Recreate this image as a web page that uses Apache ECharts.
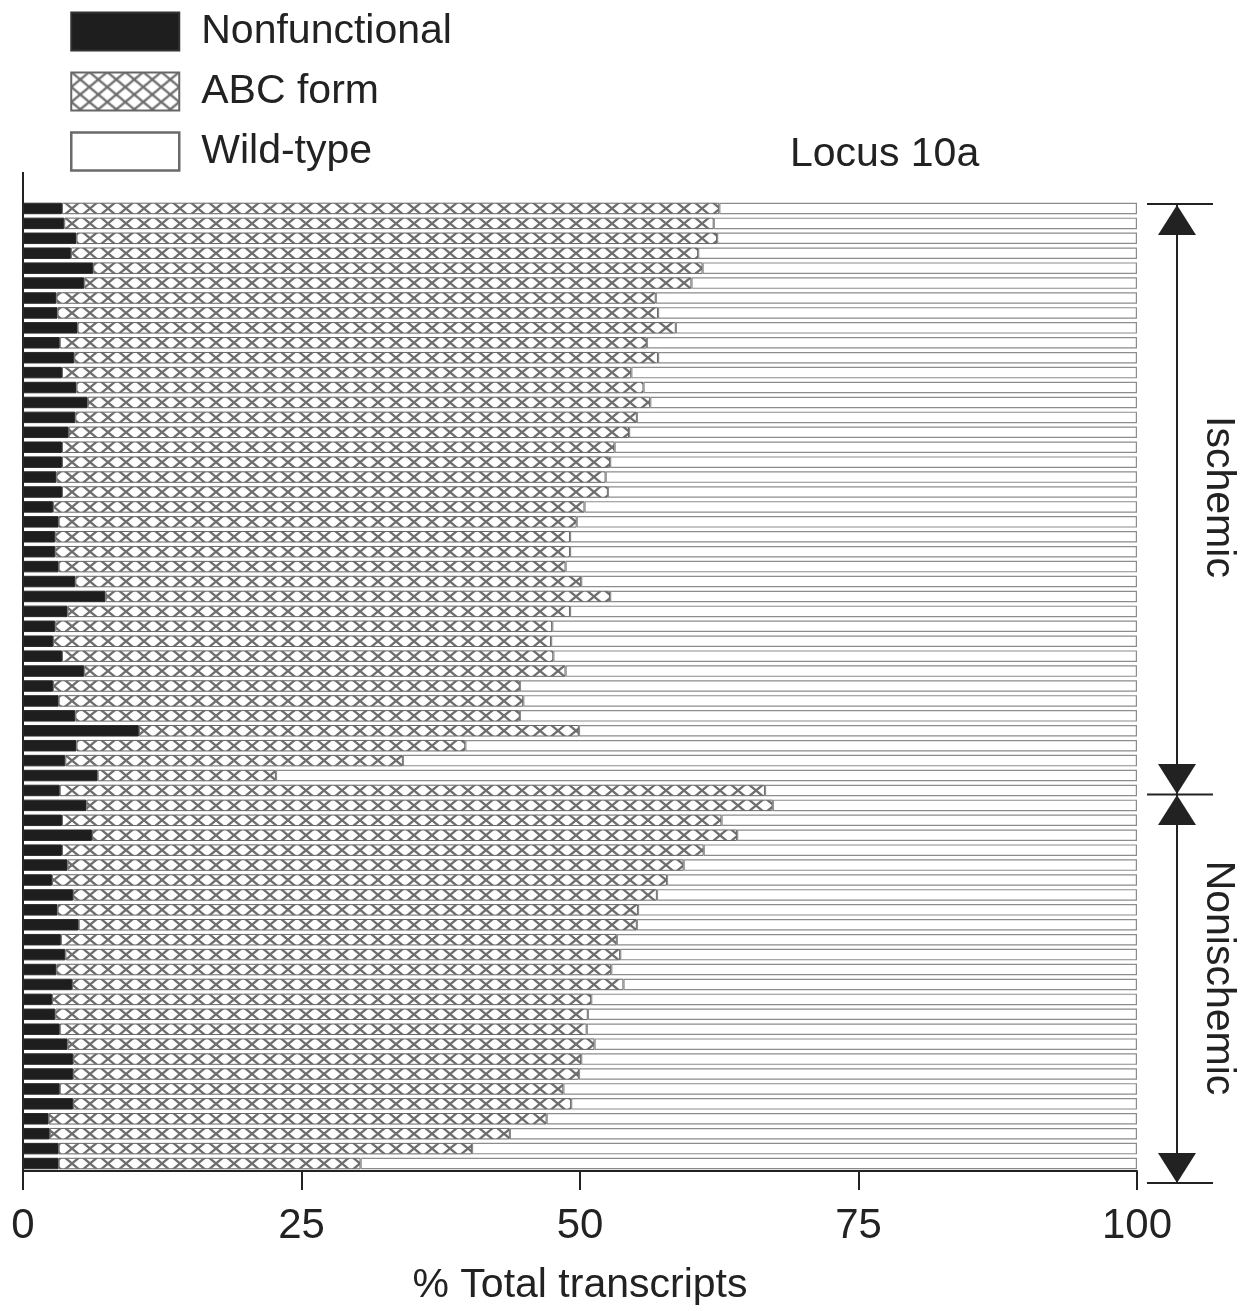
<!DOCTYPE html>
<html><head><meta charset="utf-8">
<script src="https://cdn.jsdelivr.net/npm/echarts@6/dist/echarts.min.js"></script>
<style>html,body{margin:0;padding:0;background:#fff}#c{width:1257px;height:1311px}</style>
</head><body><div id="c"></div>
<script>
// ---- data ----
const categories = ['I1','I2','I3','I4','I5','I6','I7','I8','I9','I10','I11','I12','I13','I14','I15','I16','I17','I18','I19','I20','I21','I22','I23','I24','I25','I26','I27','I28','I29','I30','I31','I32','I33','I34','I35','I36','I37','I38','I39',
  'N1','N2','N3','N4','N5','N6','N7','N8','N9','N10','N11','N12','N13','N14','N15','N16','N17','N18','N19','N20','N21','N22','N23','N24','N25','N26'];
const nonfunctional = [3.5,3.7,4.8,4.3,6.3,5.5,3.0,3.1,4.9,3.3,4.6,3.5,4.8,5.8,4.7,4.1,3.5,3.5,3.0,3.5,2.7,3.2,2.9,2.9,3.2,4.7,7.4,4.0,2.9,2.7,3.5,5.5,2.7,3.2,4.7,10.4,4.8,3.8,6.7,
  3.3,5.7,3.5,6.2,3.5,4.0,2.6,4.5,3.1,5.0,3.4,3.8,3.0,4.4,2.6,2.9,3.3,4.0,4.5,4.5,3.3,4.5,2.3,2.4,3.2,3.2];
const abcForm = [59.0,58.3,57.5,56.3,54.7,54.5,53.8,53.9,53.7,52.7,52.4,51.1,50.9,50.5,50.4,50.3,49.6,49.2,49.3,49.0,47.7,46.5,46.2,46.2,45.5,45.4,45.3,45.1,44.6,44.7,44.1,43.2,41.9,41.7,39.9,39.5,34.9,30.3,16.0,
  63.3,61.6,59.2,57.9,57.6,55.3,55.2,52.4,52.1,50.1,49.9,49.8,49.8,49.5,48.4,47.8,47.3,47.3,45.6,45.4,45.2,44.7,44.7,41.3,37.1,27.1];
const wildType = [37.5,38.0,37.7,39.4,39.0,40.0,43.2,43.0,41.4,44.0,43.0,45.4,44.3,43.7,44.9,45.6,46.9,47.3,47.7,47.5,49.6,50.3,50.9,50.9,51.3,49.9,47.3,50.9,52.5,52.6,52.4,51.3,55.4,55.1,55.4,50.1,60.3,65.9,77.3,
  33.4,32.7,37.3,35.9,38.9,40.7,42.2,43.1,44.8,44.9,46.7,46.4,47.2,46.1,49.0,49.3,49.4,48.7,49.9,50.1,51.5,50.8,53.0,56.3,59.7,69.7];
const xTicks = [0, 25, 50, 75, 100];
const seriesNames = ['Nonfunctional', 'ABC form', 'Wild-type'];
const groupLabels = ['Ischemic', 'Nonischemic'];
const chartTitle = 'Locus 10a';
const axisTitle = '% Total transcripts';

// ---- layout ----
const W = 1257, H = 1311;
const GRID_LEFT = 23, GRID_RIGHT = 120, GRID_TOP = 201, GRID_H = 970;
const FONT = '"Liberation Sans", Arial, Helvetica, sans-serif';
const INK = '#222';

// cross-hatch pattern whose crossings sit on the bar centres
const pitch = GRID_H / categories.length;
const pat = document.createElement('canvas');
pat.width = 18; pat.height = H;
(function(){
  const g = pat.getContext('2d');
  g.fillStyle = '#fff'; g.fillRect(0,0,pat.width,pat.height);
  g.strokeStyle = '#6e6e6e'; g.lineWidth = 2.3;
  const s = pitch / 18;
  const c0 = GRID_TOP + pitch / 2;
  for (let k = -120; k <= 120; k++) {
    const c = c0 + k * pitch;
    g.beginPath(); g.moveTo(-18, c - 18 * s); g.lineTo(36, c + 36 * s); g.stroke();
    g.beginPath(); g.moveTo(-18, c + 18 * s); g.lineTo(36, c - 36 * s); g.stroke();
  }
})();
const hatch = { image: pat, repeat: 'repeat' };

const chart = echarts.init(document.getElementById('c'), null, {renderer: 'canvas', width: W, height: H});

const BW = 11.5;
const BX = 1177;

function line(x1,y1,x2,y2){ return {type:'line', silent:true, shape:{x1,y1,x2,y2}, style:{stroke:INK, lineWidth:2}}; }
function tri(tipX, tipY, dir){ // dir -1 = pointing up, +1 = pointing down
  const h = 30, w = 19;
  return {type:'polygon', silent:true, shape:{points:[[tipX,tipY],[tipX-w,tipY-dir*h],[tipX+w,tipY-dir*h]]}, style:{fill:INK}};
}
function vtext(t, x, y){
  return {type:'text', silent:true, x, y, rotation:-Math.PI/2,
    style:{text:t, fontSize:41, fontFamily:FONT, fill:INK, align:'center', verticalAlign:'middle'}};
}

const option = {
  animation: false,
  backgroundColor: '#fff',
  title: { text: chartTitle, left: 790, top: 134, padding: 0,
    textStyle: { fontSize: 41, fontWeight: 'normal', color: INK, fontFamily: FONT } },
  legend: {
    orient: 'vertical', left: 70, top: 11, padding: 0, itemWidth: 108, itemHeight: 38, itemGap: 19,
    icon: 'rect', selectedMode: false,
    textStyle: { fontSize: 41, lineHeight: 38, color: INK, fontFamily: FONT, padding: [0,0,0,17] },
    data: [
      { name: seriesNames[0], itemStyle: { color: '#1e1e1e', borderColor: '#333', borderWidth: 2 } },
      { name: seriesNames[1], itemStyle: { color: hatch, borderColor: '#666', borderWidth: 2 } },
      { name: seriesNames[2], itemStyle: { color: '#fff', borderColor: '#6a6a6a', borderWidth: 2.5 } }
    ]
  },
  grid: { left: GRID_LEFT, right: GRID_RIGHT, top: GRID_TOP, height: GRID_H, containLabel: false },
  xAxis: {
    type: 'value', min: xTicks[0], max: xTicks[xTicks.length-1], interval: 25,
    name: axisTitle, nameLocation: 'middle', nameGap: 94,
    nameTextStyle: { fontSize: 41, color: INK, fontFamily: FONT },
    axisLine: { show: true, lineStyle: { color: INK, width: 2 } },
    axisTick: { show: true, length: 19, lineStyle: { color: INK, width: 2 } },
    axisLabel: { fontSize: 42, color: INK, fontFamily: FONT, margin: 34 },
    splitLine: { show: false }
  },
  yAxis: {
    type: 'category', data: categories, inverse: true,
    axisLine: { show: true, lineStyle: { color: INK, width: 2 } },
    axisTick: { show: false }, axisLabel: { show: false }, splitLine: { show: false }
  },
  series: [
    { name: seriesNames[0], type: 'bar', stack: 'total', data: nonfunctional, barWidth: BW,
      itemStyle: { color: '#1e1e1e', borderColor: '#2a2a2a', borderWidth: 1 } },
    { name: seriesNames[1], type: 'bar', stack: 'total', data: abcForm, barWidth: BW,
      itemStyle: { color: hatch, borderColor: '#666', borderWidth: 1 } },
    { name: seriesNames[2], type: 'bar', stack: 'total', data: wildType, barWidth: BW,
      itemStyle: { color: '#fff', borderColor: '#8c8c8c', borderWidth: 1.2 } }
  ],
  graphic: [
    line(GRID_LEFT, 172, GRID_LEFT, GRID_TOP + 1),
    // bracket
    line(BX, 205, BX, 1183),
    line(1147, 204, 1213, 204),
    line(1147, 794.5, 1213, 794.5),
    line(1147, 1183, 1213, 1183),
    tri(BX, 205, -1),
    tri(BX, 794, 1),
    tri(BX, 795, -1),
    tri(BX, 1183, 1),
    vtext(groupLabels[0], 1218, 497),
    vtext(groupLabels[1], 1218, 978)
  ]
};
chart.setOption(option);
</script></body></html>
